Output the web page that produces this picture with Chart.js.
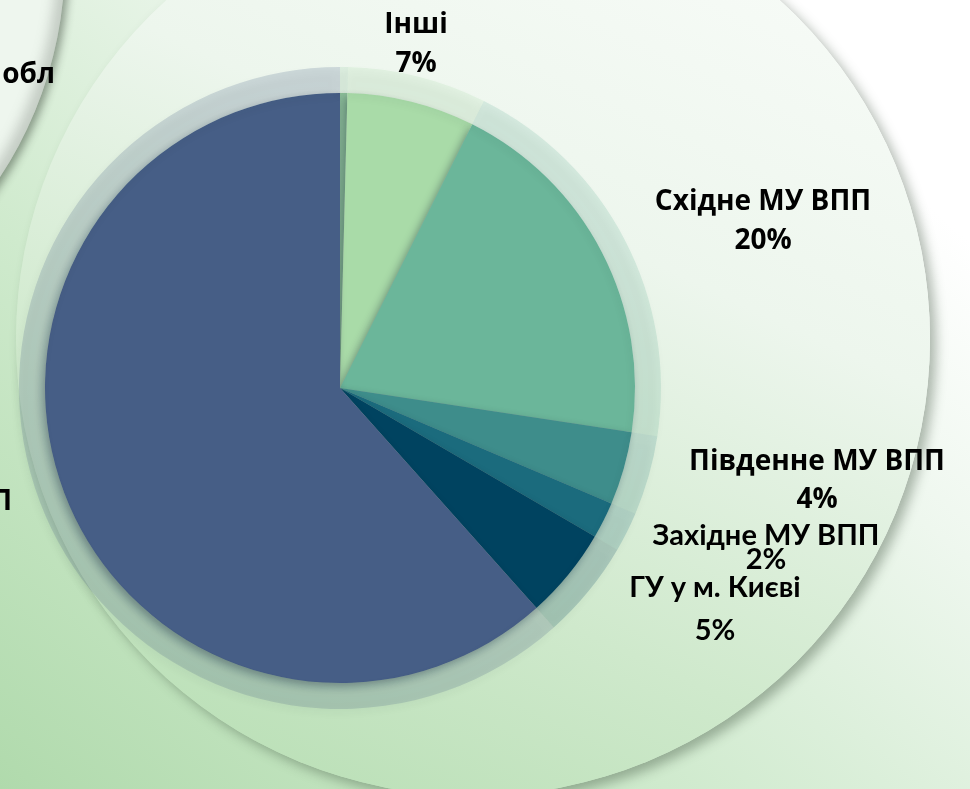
<!DOCTYPE html>
<html>
<head>
<meta charset="utf-8">
<script src="https://cdn.jsdelivr.net/npm/chart.js@4.4.1/dist/chart.umd.min.js"></script>
<style>
  html, body { margin: 0; padding: 0; }
  body {
    width: 970px; height: 789px; overflow: hidden; position: relative;
    background: linear-gradient(40deg, #b0daac 0%, #cfeacd 35%, #eef7ee 65%, #ffffff 85%);
  }
  #big-circle {
    position: absolute; left: 16px; top: -118px; width: 914px; height: 914px; border-radius: 50%;
    background: linear-gradient(205deg, #fbfdfb 0%, #edf6ed 38%, #cfe9cc 68%, #b2dcae 100%);
    box-shadow: 6px 6px 12px rgba(60, 80, 60, 0.4);
  }
  #corner-circle {
    position: absolute; left: -725px; top: -435px; width: 790px; height: 790px; border-radius: 50%;
    background: #eef6ee;
    box-shadow: 4px 3px 9px rgba(40, 50, 40, 0.45), inset -8px -5px 12px rgba(120, 130, 120, 0.35);
  }
  #chart-box { position: absolute; left: 0; top: 0; width: 970px; height: 789px; }
</style>
</head>
<body>
<div id="big-circle"></div>
<div id="corner-circle"></div>
<div id="chart-box"><canvas id="pie"></canvas></div>
<script>
// slices clockwise from 12 o'clock
const categories = ['ГУ у Київській обл', 'Інші', 'Східне МУ ВПП', 'Південне МУ ВПП', 'Західне МУ ВПП', 'ГУ у м. Києві', 'Центральне МУ ВПП']
const shares = [0.4, 7, 20, 4, 2, 5, 61.6]
const sliceColors = ['#93c6a0', '#a9dba8', '#6bb69a', '#3e8d8b', '#1b6b7d', '#004360', '#465e86']

// where each label sits (line 1 / line 2 baselines); "right" means line 1 ends there
const labelLayout = [
  { right: 55, y1: 83, y2: 122, font: 'Open Sans', size: 28 },
  { x: 416, y1: 33, y2: 72, font: 'Open Sans', size: 28 },
  { x: 763, y1: 210, y2: 249, font: 'Open Sans', size: 28 },
  { x: 817, y1: 470, y2: 508, font: 'Open Sans', size: 28 },
  { x: 766, y1: 545, y2: 569, font: 'Lato', size: 29 },
  { x: 715, y1: 597, y2: 640, font: 'Lato', size: 29 },
  { right: 12, y1: 510, y2: 549, font: 'Open Sans', size: 28 }
]

function withAlpha(hex, a) {
  const n = parseInt(hex.slice(1), 16)
  return `rgba(${n >> 16}, ${(n >> 8) & 255}, ${n & 255}, ${a})`
}
const ringColors = sliceColors.map(c => withAlpha(c, 0.2))

const total = shares.reduce((s, v) => s + v, 0)

const shadowPlugin = {
  id: 'shadows',
  beforeDatasetDraw(chart, args) {
    const ctx = chart.ctx
    ctx.save()
    if (args.index === 1) {
      ctx.shadowColor = 'rgba(15, 30, 45, 0.4)'
      ctx.shadowBlur = 8
      ctx.shadowOffsetX = -3
      ctx.shadowOffsetY = 4
    } else {
      ctx.shadowColor = 'rgba(30, 50, 40, 0.22)'
      ctx.shadowBlur = 8
      ctx.shadowOffsetX = -2
      ctx.shadowOffsetY = 4
    }
  },
  afterDatasetDraw(chart) {
    chart.ctx.restore()
  }
}

const labelPlugin = {
  id: 'sliceLabels',
  afterDraw(chart) {
    const ctx = chart.ctx
    ctx.save()
    ctx.fillStyle = '#000'
    ctx.textAlign = 'center'
    ctx.textBaseline = 'alphabetic'
    categories.forEach((name, i) => {
      const pos = labelLayout[i]
      ctx.font = `bold ${pos.size}px "${pos.font}"`
      let cx = pos.x
      if (pos.right !== undefined) cx = pos.right - ctx.measureText(name).width / 2
      const pct = Math.round(shares[i] / total * 100) + '%'
      ctx.fillText(name, cx, pos.y1)
      ctx.fillText(pct, cx, pos.y2)
    })
    ctx.restore()
  }
}

new Chart(document.getElementById('pie'), {
  type: 'pie',
  data: {
    labels: categories,
    datasets: [
      { data: shares, backgroundColor: ringColors, borderWidth: 0, weight: 26 },
      { data: shares, backgroundColor: sliceColors, borderWidth: 0, weight: 295 }
    ]
  },
  options: {
    responsive: true,
    maintainAspectRatio: false,
    animation: false,
    events: [],
    layout: { padding: { left: 19, top: 67, right: 309, bottom: 80 } },
    plugins: {
      legend: { display: false },
      tooltip: { enabled: false }
    }
  },
  plugins: [shadowPlugin, labelPlugin]
})
</script>
</body>
</html>
